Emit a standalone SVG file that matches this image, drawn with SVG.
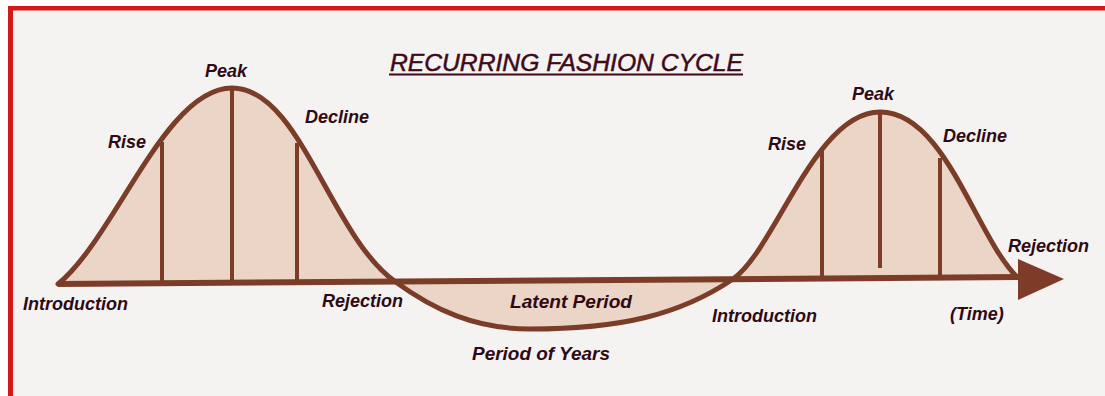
<svg xmlns="http://www.w3.org/2000/svg" width="1105" height="396" viewBox="0 0 1105 396">
  <style>
    .lbl { font-family: "Liberation Sans", Arial, sans-serif; font-size: 18px; font-weight: bold; font-style: italic; fill: #2f0a15; }
    .title { font-family: "Liberation Sans", Arial, sans-serif; font-size: 24.5px; font-style: italic; fill: #3f0a18; stroke: #3f0a18; stroke-width: 0.5; }
    .fill { fill: #ead5c7; stroke: none; }
    .curve { fill: none; stroke: #7b3d28; stroke-width: 5; stroke-linecap: round; stroke-linejoin: round; }
    .vline { stroke: #7b3d28; stroke-width: 4; }
    .axis { stroke: #7b3d28; stroke-width: 6; stroke-linecap: butt; }
  </style>

  <g id="background">
    <rect x="0" y="0" width="1105" height="396" fill="#ffffff"/>
    <rect x="8" y="6" width="1097" height="390" fill="#f4f3f1"/>
    <rect x="8" y="6" width="1097" height="4.5" fill="#d4181c"/>
    <rect x="8" y="6" width="5" height="390" fill="#d4181c"/>
  </g>

  <g id="fills">
    <path class="fill" d="M58,284 C 115,238 165,88 232,88 C 300,88 330,235 395,281.5 Z"/>
    <path class="fill" d="M395,281.5 C 434,310 475,329 530,329 C 620,329 680,315 733,279 Z"/>
    <path class="fill" d="M733,279 C 775,250 815,112 880,112 C 945,112 975,235 1017,277 Z"/>
  </g>

  <g id="connectors">
    <line class="vline" x1="162" y1="142" x2="162" y2="283"/>
    <line class="vline" x1="232" y1="89" x2="232" y2="280"/>
    <line class="vline" x1="297" y1="143" x2="297" y2="282"/>
    <line class="vline" x1="822" y1="150" x2="822" y2="278"/>
    <line class="vline" x1="880" y1="113" x2="880" y2="268"/>
    <line class="vline" x1="940" y1="158" x2="940" y2="277"/>
    <line class="axis" x1="58" y1="284" x2="1025" y2="277"/>
    <polygon points="1018,259 1064,279 1018,300" fill="#7e3b27"/>
    <path class="curve" d="M58,284 C 115,238 165,88 232,88 C 300,88 330,235 395,281.5 C 434,310 475,329 530,329 C 620,329 680,315 733,279 C 775,250 815,112 880,112 C 945,112 975,235 1017,277"/>
  </g>

  <g id="title">
    <text class="title" x="390" y="71" textLength="353" lengthAdjust="spacingAndGlyphs">RECURRING FASHION CYCLE</text>
    <line x1="389" y1="74.5" x2="743" y2="74.5" stroke="#3f0a18" stroke-width="1.8"/>
  </g>

  <g id="cycle1-labels">
    <text id="peak1" class="lbl" x="205" y="77">Peak</text>
    <text id="rise1" class="lbl" x="108" y="148">Rise</text>
    <text id="decline1" class="lbl" x="305" y="123">Decline</text>
    <text id="intro1" class="lbl" x="23" y="310">Introduction</text>
    <text id="reject1" class="lbl" x="322" y="307">Rejection</text>
  </g>

  <g id="latent-labels">
    <text id="latent" class="lbl" x="510" y="308" textLength="122" lengthAdjust="spacingAndGlyphs">Latent Period</text>
    <text id="years" class="lbl" x="472" y="360" textLength="138" lengthAdjust="spacingAndGlyphs">Period of Years</text>
  </g>

  <g id="cycle2-labels">
    <text id="intro2" class="lbl" x="712" y="322">Introduction</text>
    <text id="peak2" class="lbl" x="852" y="100">Peak</text>
    <text id="rise2" class="lbl" x="768" y="150">Rise</text>
    <text id="decline2" class="lbl" x="943" y="142">Decline</text>
    <text id="reject2" class="lbl" x="1008" y="252">Rejection</text>
    <text id="time" class="lbl" x="950" y="320">(Time)</text>
  </g>
</svg>
